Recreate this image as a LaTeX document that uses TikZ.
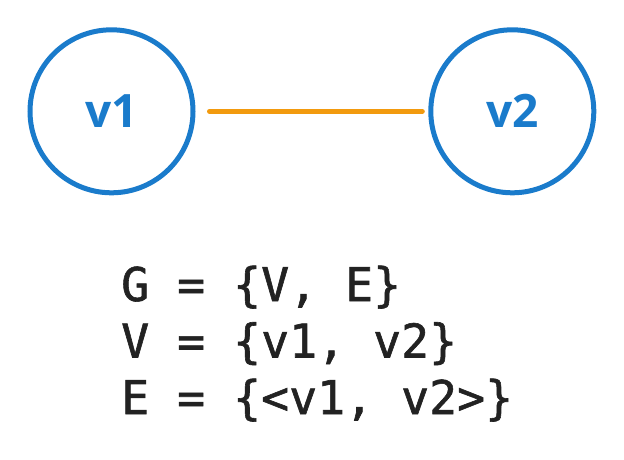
\documentclass[tikz,border=0pt]{standalone}
\usepackage{fontspec}
\setmainfont{Open Sans}
\newfontfamily\labelfont{Open Sans}
\newfontfamily\codefont[FakeBold=1.3]{DejaVu Sans Mono}
\definecolor{nodeblue}{HTML}{1A7BCB}
\definecolor{edgeorange}{HTML}{F29A0E}
\definecolor{codegray}{HTML}{222222}
\tikzset{
  vertex/.style={circle, draw=nodeblue, line width=5pt, minimum size=163pt, inner sep=0pt,
    text=nodeblue, font=\labelfont\bfseries\fontsize{46}{50}\selectfont},
  edgeline/.style={draw=edgeorange, line width=5pt, line cap=round},
  codeline/.style={anchor=base west, inner sep=0pt, text=codegray,
    font=\codefont\fontsize{46.5}{56}\selectfont}
}
\begin{document}
\begin{tikzpicture}[x=1pt,y=-1pt]
\useasboundingbox (0,0) rectangle (624,459);
\node[vertex] (v1) at (111.5,111.3) {v1};
\node[vertex] (v2) at (512.3,111.3) {v2};
\draw[edgeline] ([xshift=14pt]v1.east) -- ([xshift=-6pt]v2.west);
\node[codeline] (l1) at (121,301) {G = \{V, E\}};
\node[codeline] (l2) at (121,357.5) {V = \{v1, v2\}};
\node[codeline] (l3) at (121,414) {E = \{<v1, v2>\}};
\end{tikzpicture}
\end{document}
